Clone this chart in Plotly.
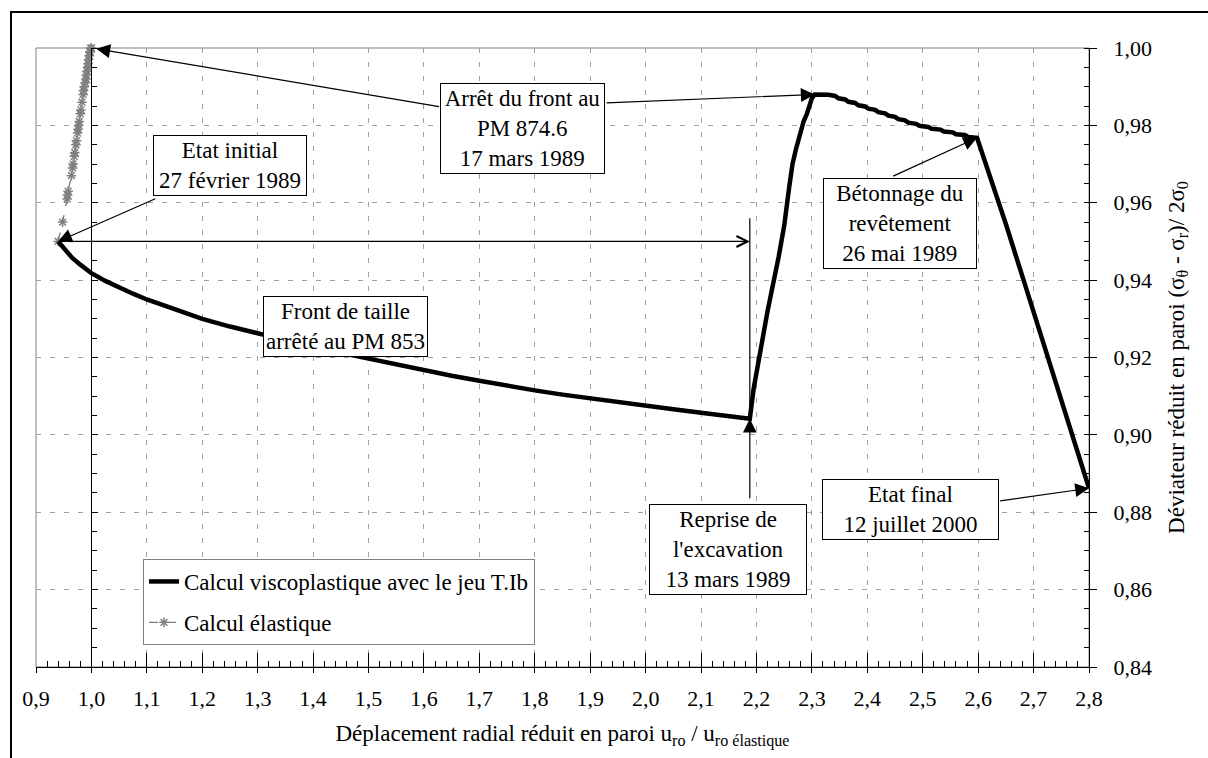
import plotly.graph_objects as go

# ---- data -------------------------------------------------------------
# Viscoplastic computation (parameter set T.Ib): reduced wall displacement / reduced deviator
visco_x = [0.940, 0.950, 0.965, 0.980, 1.000, 1.025, 1.050, 1.075, 1.100, 1.150,
           1.200, 1.250, 1.300, 1.350, 1.400, 1.450, 1.500, 1.550, 1.600, 1.650,
           1.700, 1.750, 1.800, 1.850, 1.900, 1.950, 2.000, 2.050, 2.100, 2.150,
           2.188,
           2.195, 2.204, 2.220, 2.240, 2.250, 2.259, 2.265, 2.271, 2.280, 2.285,
           2.291, 2.296, 2.300, 2.305, 2.318, 2.330,
           2.342, 2.348, 2.360, 2.366, 2.378, 2.384, 2.396, 2.402, 2.414, 2.420,
           2.432, 2.438, 2.450, 2.456, 2.468, 2.474, 2.488, 2.494, 2.510, 2.516,
           2.532, 2.538, 2.554, 2.560, 2.576, 2.582, 2.598,
           2.620, 2.650, 2.700, 2.750, 2.800]
visco_y = [0.9500, 0.9482, 0.9458, 0.9440, 0.9418, 0.9398, 0.9380, 0.9365, 0.9350, 0.9325,
           0.9300, 0.9280, 0.9262, 0.9245, 0.9228, 0.9212, 0.9197, 0.9182, 0.9167, 0.9153,
           0.9140, 0.9127, 0.9115, 0.9104, 0.9094, 0.9084, 0.9075, 0.9066, 0.9057, 0.9049,
           0.9042,
           0.9120, 0.9194, 0.9320, 0.9460, 0.9540, 0.9640, 0.9700, 0.9737, 0.9790, 0.9810,
           0.9830, 0.9857, 0.9870, 0.9880, 0.9880, 0.9879,
           0.9876, 0.9870, 0.9867, 0.9861, 0.9858, 0.9852, 0.9849, 0.9843, 0.9840, 0.9834,
           0.9831, 0.9825, 0.9822, 0.9816, 0.9813, 0.9807, 0.9804, 0.9799, 0.9796, 0.9791,
           0.9789, 0.9784, 0.9782, 0.9777, 0.9775, 0.9770, 0.9768,
           0.9675, 0.9545, 0.9318, 0.9092, 0.8862]

# Elastic computation
elas_x = [0.940, 0.948, 0.956, 0.957, 0.958, 0.964, 0.966, 0.967, 0.969, 0.970,
          0.972, 0.973, 0.975, 0.976, 0.977, 0.978, 0.980, 0.981, 0.983, 0.985,
          0.986, 0.987, 0.989, 0.990, 0.991, 0.992, 0.993, 0.994, 0.995, 0.996,
          0.997, 0.998, 0.999, 1.000]
elas_y = [0.950, 0.955, 0.961, 0.962, 0.963, 0.967, 0.969, 0.970, 0.972, 0.973,
          0.975, 0.976, 0.978, 0.979, 0.980, 0.981, 0.983, 0.984, 0.986, 0.988,
          0.989, 0.990, 0.991, 0.992, 0.993, 0.994, 0.995, 0.996, 0.997, 0.998,
          0.999, 0.999, 1.000, 1.000]

series_names = ["Calcul viscoplastique avec le jeu T.Ib", "Calcul élastique"]

x_tickvals = [0.9, 1.0, 1.1, 1.2, 1.3, 1.4, 1.5, 1.6, 1.7, 1.8, 1.9,
              2.0, 2.1, 2.2, 2.3, 2.4, 2.5, 2.6, 2.7, 2.8]
x_ticktext = ["0,9", "1,0", "1,1", "1,2", "1,3", "1,4", "1,5", "1,6", "1,7", "1,8", "1,9",
              "2,0", "2,1", "2,2", "2,3", "2,4", "2,5", "2,6", "2,7", "2,8"]
y_tickvals = [0.84, 0.86, 0.88, 0.90, 0.92, 0.94, 0.96, 0.98, 1.00]
y_ticktext = ["0,84", "0,86", "0,88", "0,90", "0,92", "0,94", "0,96", "0,98", "1,00"]

event_texts = {
    "initial": "Etat initial<br>27 février 1989",
    "arret": "Arrêt du front au<br>PM 874.6<br>17 mars 1989",
    "front": "Front de taille<br>arrêté au PM 853",
    "reprise": "Reprise de<br>l'excavation<br>13 mars 1989",
    "betonnage": "Bétonnage du<br>revêtement<br>26 mai 1989",
    "final": "Etat final<br>12 juillet 2000",
}

x_title = "Déplacement radial réduit en paroi u<sub>ro</sub> / u<sub>ro élastique</sub>"
y_title = "Déviateur réduit en paroi (σ<sub>θ</sub> - σ<sub>r</sub>)/ 2σ<sub>0</sub>"

# ---- key points on the viscoplastic path --------------------------------
x_range = [x_tickvals[0], x_tickvals[-1]]
y_range = [y_tickvals[0], y_tickvals[-1]]

i_start = 0
i_reprise = visco_y.index(min(visco_y[:40]))
i_peak = visco_y.index(max(visco_y))
i_beton = visco_x.index(2.598)
i_end = len(visco_x) - 1

FONT = "'Liberation Serif', 'Times New Roman', Times, 'DejaVu Serif', serif"
FS = 23
W, H = 1208, 758
ML, MR, MT, MB = 36, 119, 48, 91

fig = go.Figure()

fig.add_trace(go.Scatter(
    x=elas_x, y=elas_y, name=series_names[1], mode="lines+markers",
    line=dict(color="#808080", width=1.3, dash="dash"),
    marker=dict(symbol="asterisk-open", size=8, color="#808080",
                line=dict(color="#808080", width=1.5)),
    cliponaxis=False, legendgroup="b", legendrank=2,
))
fig.add_trace(go.Scatter(
    x=visco_x, y=visco_y, name=series_names[0], mode="lines",
    line=dict(color="black", width=4.5), legendgroup="a", legendrank=1,
))
# helper trace carrying the secondary axes (axis line through x = 1,0)
fig.add_trace(go.Scatter(x=[None], y=[None], xaxis="x2", yaxis="y2",
                         showlegend=False, hoverinfo="skip"))

grid = dict(showgrid=True, gridcolor="#a0a0a0", gridwidth=1, griddash="5px,9px")
tickfont = dict(family=FONT, size=22, color="black")

fig.update_layout(
    width=W, height=H,
    margin=dict(l=ML, r=MR, t=MT, b=MB, pad=0),
    paper_bgcolor="white", plot_bgcolor="white",
    font=dict(family=FONT, size=FS, color="black"),
    showlegend=True,
    legend=dict(
        x=(143 - ML) / (W - ML - MR), y=(H - MB - 645) / (H - MT - MB),
        xanchor="left", yanchor="bottom",
        bgcolor="white", bordercolor="#808080", borderwidth=1,
        font=dict(family=FONT, size=FS, color="black"),
        traceorder="grouped", tracegroupgap=8,
    ),
    xaxis=dict(
        range=x_range, tickmode="array", tickvals=x_tickvals, ticktext=x_ticktext,
        ticks="inside", ticklen=14, tickwidth=1, tickcolor="black",
        showline=True, linecolor="black", linewidth=1,
        tickfont=tickfont, ticklabelstandoff=12,
        minor=dict(ticks="inside", ticklen=6, tick0=0.9, dtick=0.02,
                   tickcolor="black", showgrid=False),
        title=dict(text=x_title, font=dict(family=FONT, size=FS), standoff=14),
        zeroline=False, **grid,
    ),
    yaxis=dict(
        range=y_range, side="right", tickmode="array", tickvals=y_tickvals,
        ticktext=y_ticktext, ticks="outside", ticklen=7, tickwidth=1,
        tickcolor="black", showline=True, linecolor="black", linewidth=1,
        tickfont=tickfont, ticklabelstandoff=12,
        minor=dict(ticks="inside", ticklen=5, tick0=0.84, dtick=0.005,
                   tickcolor="black", showgrid=False),
        title=dict(text=y_title, font=dict(family=FONT, size=FS), standoff=16),
        zeroline=False, **grid,
    ),
    xaxis2=dict(
        range=x_range, overlaying="x", anchor="y2", side="bottom",
        tickmode="array", tickvals=x_tickvals, ticks="outside", ticklen=5,
        tickcolor="black", showticklabels=False, showgrid=False,
        showline=False, zeroline=False,
    ),
    yaxis2=dict(
        range=y_range, overlaying="y", anchor="free",
        position=(1.0 - x_range[0]) / (x_range[1] - x_range[0]), side="right",
        tickmode="array", tickvals=y_tickvals, ticks="outside", ticklen=6,
        tickcolor="black", showticklabels=False, showgrid=False,
        showline=True, linecolor="black", linewidth=1, zeroline=False,
        minor=dict(ticks="outside", ticklen=5, tick0=0.84, dtick=0.005,
                   tickcolor="black", showgrid=False),
    ),
)

# plot-area frame and outer figure frame
pw, ph = W - ML - MR, H - MT - MB
fig.add_shape(type="rect", xref="paper", yref="paper", x0=0, x1=1, y0=0, y1=1,
              line=dict(color="#808080", width=1), layer="below")
fig.add_shape(type="rect", xref="paper", yref="paper",
              x0=(11 - ML) / pw, x1=1.5, y0=-0.5, y1=(H - MB - 12) / ph,
              line=dict(color="black", width=2), layer="above")

# vertical marker closing the "front de taille" interval
fig.add_shape(type="line", xref="x", yref="y",
              x0=visco_x[i_reprise], x1=visco_x[i_reprise],
              y0=visco_y[i_reprise], y1=0.956,
              line=dict(color="black", width=1.2))

arrow_common = dict(xref="x", yref="y", axref="x", ayref="y", text="",
                    showarrow=True, arrowcolor="black", arrowwidth=1.2)
annotations = [
    # Etat initial
    dict(x=visco_x[i_start], y=visco_y[i_start], ax=1.118, ay=0.9612,
         arrowhead=2, arrowsize=2.3, **arrow_common),
    # Arrêt du front -> elastic end
    dict(x=elas_x[-1], y=elas_y[-1], ax=1.630, ay=0.9848, standoff=5,
         arrowhead=2, arrowsize=2.3, **arrow_common),
    # Arrêt du front -> viscoplastic peak
    dict(x=visco_x[i_peak], y=visco_y[i_peak], ax=1.927, ay=0.9858,
         arrowhead=2, arrowsize=2.3, **arrow_common),
    # Front de taille interval
    dict(x=visco_x[i_reprise], y=visco_y[i_start], ax=visco_x[i_start], ay=visco_y[i_start],
         arrowhead=5, arrowsize=1.8, **arrow_common),
    # Reprise de l'excavation
    dict(x=visco_x[i_reprise], y=visco_y[i_reprise], ax=visco_x[i_reprise], ay=0.8832,
         arrowhead=2, arrowsize=2.3, **arrow_common),
    # Bétonnage
    dict(x=visco_x[i_beton], y=visco_y[i_beton], ax=2.444, ay=0.9667,
         arrowhead=2, arrowsize=2.3, **arrow_common),
    # Etat final
    dict(x=visco_x[i_end], y=visco_y[i_end], ax=2.637, ay=0.8829,
         arrowhead=2, arrowsize=2.3, **arrow_common),
]

box_common = dict(xref="x", yref="y", showarrow=False, bgcolor="white",
                  bordercolor="black", borderwidth=1, borderpad=2, align="center",
                  font=dict(family=FONT, size=FS, color="black"))
# centre (data units) and text-area width (px, None = fit to text)
box_pos = {
    "initial": (1.250, 0.9696, 148),
    "arret": (1.778, 0.9791, 159),
    "front": (1.458, 0.9279, None),
    "reprise": (2.149, 0.8704, 152),
    "betonnage": (2.459, 0.9546, 148),
    "final": (2.478, 0.8808, 171),
}
for key, (bx, by, bw) in box_pos.items():
    ann = dict(x=bx, y=by, text=event_texts[key], **box_common)
    if bw:
        ann["width"] = bw
    annotations.append(ann)

fig.update_layout(annotations=annotations)

fig.write_html("out.html")
